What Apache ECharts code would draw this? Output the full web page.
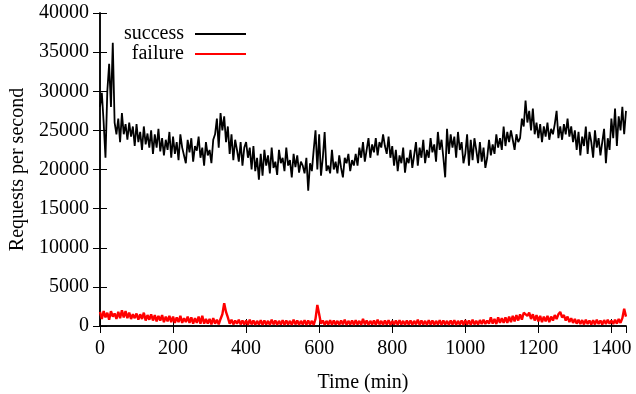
<!DOCTYPE html>
<html>
<head>
<meta charset="utf-8">
<script src="https://cdn.jsdelivr.net/npm/echarts@6/dist/echarts.min.js"></script>
<style>
html,body{margin:0;padding:0;background:#fff;}
#chart{width:636px;height:394px;}
</style>
</head>
<body>
<div id="chart"></div>
<script>
// Sampling step of the series (minutes)
const stepMin = 5;
const xTicks = [0, 200, 400, 600, 800, 1000, 1200, 1400];
const yTicks = [0, 5000, 10000, 15000, 20000, 25000, 30000, 35000, 40000];
const seriesNames = ['success', 'failure'];

const success = [
  28000, 29800, 26000, 21500, 30000, 33500, 28000, 36200, 26000, 24500,
  26500, 23500, 27200, 24500, 25800, 23800, 26000, 24200, 25500, 23000,
  25800, 23500, 24800, 22500, 25500, 23200, 24600, 22800, 25000, 22000,
  24500, 22800, 25200, 22300, 24000, 21800, 23800, 22500, 24800, 21500,
  24200, 22000, 23500, 21200, 24500, 22800, 23000, 20800, 23800, 22200,
  24000, 21000, 23000, 22400, 24200, 21500, 22800, 20500, 23500, 21800,
  22500, 20800, 23800, 24500, 26500, 22800, 27200, 25000, 26800, 23500,
  25500, 22000, 24500, 21200, 23800, 22500, 21000, 23500, 20500, 22800,
  23500, 21500, 22800, 20000, 23000, 19800, 21500, 18700, 22000, 19200,
  22500, 20500, 21800, 19500, 22800, 20200, 21000, 19300, 22500, 20800,
  21500, 19800, 22800, 20500, 21200, 19000, 22000, 20300, 21800, 19600,
  21000, 20500, 19500, 21500, 17300, 20800, 19800, 22500, 25000, 20000,
  24500, 19200, 21500, 24800, 19800, 20500, 19500, 22500, 20000, 21000,
  19500, 21800, 20200, 19000, 21500, 20800, 22000, 19800, 21200, 20500,
  22000, 20500, 22800, 21500, 23500, 21000, 22500, 24000, 21500, 23200,
  22200, 24000, 21800, 23500, 22800, 24500, 23000, 22000, 24200, 21500,
  23000, 20500, 22500, 19800, 21800, 20800, 22800, 19600, 21500, 20800,
  22500, 20200, 21800, 23500, 20500, 22800, 21500, 23800, 20800, 22500,
  21500, 24000, 22200, 23200, 21000, 24800, 22500, 23800, 21500, 19000,
  25200, 22000, 24500, 22800, 24200, 21500, 24800, 22500, 23500, 20800,
  22000, 24500, 20500, 23800, 21200, 24000, 22500, 20800, 23500, 21000,
  22800, 20200, 21500, 23800, 21800, 23200, 22000, 24500, 22800, 24000,
  22500, 25500, 23000, 24800, 23500, 25000, 23800, 22500, 24500, 23500,
  24000, 26500, 25500, 28800, 26000, 27500, 25000, 27800, 24500, 26000,
  24000, 25800, 23500, 25500, 24200, 26000, 23800, 25200, 24500, 25800,
  27500, 24000, 25500, 23800, 25800, 24500, 26500, 24200, 25500, 23500,
  25000, 22500, 24800, 21800, 24200, 23000, 25500, 22000, 24800, 23500,
  21500, 25000, 22800, 24000, 21800, 23500, 25200, 20800, 24000, 22500,
  26500, 24000, 27800, 23000, 26800, 25000, 28000, 24500, 27500
];

const failure = [
  1800, 900, 1900, 1100, 1700, 800, 1900, 1200, 1600, 900,
  1800, 1000, 2000, 1100, 1900, 1000, 1700, 900, 1500, 1000,
  1600, 800, 1500, 900, 1700, 700, 1400, 800, 1500, 700,
  1400, 600, 1300, 700, 1400, 500, 1200, 600, 1300, 500,
  1200, 400, 1100, 500, 1300, 400, 1000, 500, 1200, 400,
  1100, 300, 1000, 400, 1200, 300, 1300, 300, 900, 300,
  900, 200, 1000, 300, 800, 200, 900, 1500, 2900, 1800,
  1100, 300, 800, 200, 700, 300, 800, 200, 700, 200,
  700, 150, 800, 200, 700, 150, 650, 200, 750, 150,
  700, 200, 650, 150, 800, 200, 700, 150, 650, 200,
  750, 150, 700, 200, 650, 150, 800, 200, 700, 150,
  650, 200, 750, 150, 700, 200, 650, 150, 900, 2700,
  1500, 300, 700, 150, 650, 200, 750, 150, 700, 200,
  650, 150, 700, 200, 800, 150, 650, 200, 700, 150,
  750, 200, 650, 150, 900, 200, 700, 150, 650, 200,
  700, 150, 800, 200, 650, 150, 700, 200, 750, 150,
  650, 200, 700, 150, 750, 200, 650, 150, 700, 200,
  700, 150, 650, 200, 800, 150, 700, 200, 650, 150,
  750, 200, 700, 150, 650, 200, 750, 150, 700, 200,
  650, 150, 700, 200, 750, 150, 650, 200, 700, 150,
  750, 200, 700, 150, 800, 200, 650, 200, 750, 250,
  800, 250, 700, 300, 1100, 300, 900, 250, 1100, 400,
  1000, 400, 1100, 400, 1200, 500, 1300, 600, 1400, 700,
  1500, 800, 1700, 1900, 1300, 1700, 900, 1500, 700, 1400,
  600, 1300, 500, 1200, 600, 1300, 500, 1200, 700, 1400,
  900, 1500, 1800, 1100, 1400, 700, 1200, 500, 1000, 400,
  900, 300, 800, 250, 750, 200, 800, 250, 700, 200,
  750, 200, 800, 250, 700, 200, 750, 250, 800, 300,
  700, 250, 800, 300, 900, 400, 1000, 2200, 1200
];

const times = success.map((_, i) => i * stepMin);
const xMax = 1440;

const font = 'Liberation Serif';
const fs = 20;

const chart = echarts.init(document.getElementById('chart'), null, {renderer: 'canvas'});

const tickStyle = {show: true, inside: true, length: 7, lineStyle: {color: '#000', width: 1}};
const lineStyle = {show: true, lineStyle: {color: '#000', width: 1.5}};

const legendBase = {
  align: 'right', right: 390, padding: 0, icon: 'rect',
  itemWidth: 51, itemHeight: 2, selectedMode: false,
  textStyle: {fontFamily: font, fontSize: fs, color: '#000', padding: [0, 6, 0, 0]}
};

const option = {
  animation: false,
  backgroundColor: '#fff',
  grid: {left: 100, right: 10, top: 13, bottom: 68, containLabel: false, outerBoundsMode: 'none'},
  legend: [
    Object.assign({data: [seriesNames[0]], top: 24}, legendBase),
    Object.assign({data: [seriesNames[1]], top: 44}, legendBase)
  ],
  xAxis: [
    {
      type: 'value', min: xTicks[0], max: xMax, interval: xTicks[1] - xTicks[0],
      position: 'bottom',
      name: 'Time (min)', nameLocation: 'middle', nameGap: 47,
      nameTextStyle: {fontFamily: font, fontSize: fs, color: '#000'},
      axisLine: lineStyle, axisTick: tickStyle,
      axisLabel: {fontFamily: font, fontSize: fs, color: '#000', margin: 13, showMaxLabel: false,
        formatter: v => (xTicks.indexOf(v) >= 0 ? String(v) : '')},
      splitLine: {show: false}
    },
    {
      type: 'value', min: xTicks[0], max: xMax, interval: xTicks[1] - xTicks[0],
      position: 'top',
      axisLine: lineStyle, axisTick: tickStyle,
      axisLabel: {show: false}, splitLine: {show: false}
    }
  ],
  yAxis: [
    {
      type: 'value', min: yTicks[0], max: yTicks[yTicks.length - 1], interval: yTicks[1] - yTicks[0],
      position: 'left',
      name: 'Requests per second', nameLocation: 'middle', nameGap: 70,
      nameTextStyle: {fontFamily: font, fontSize: fs, color: '#000'},
      axisLine: lineStyle, axisTick: tickStyle,
      axisLabel: {fontFamily: font, fontSize: fs, color: '#000', margin: 11, formatter: v => String(v)},
      splitLine: {show: false}
    },
    {
      type: 'value', min: yTicks[0], max: yTicks[yTicks.length - 1], interval: yTicks[1] - yTicks[0],
      position: 'right',
      axisLine: lineStyle, axisTick: tickStyle,
      axisLabel: {show: false}, splitLine: {show: false}
    }
  ],
  series: [
    {
      name: seriesNames[0], type: 'line', xAxisIndex: 0, yAxisIndex: 0,
      data: times.map((t, i) => [t, success[i]]),
      symbol: 'none', color: '#000',
      lineStyle: {color: '#000', width: 1.8}
    },
    {
      name: seriesNames[1], type: 'line', xAxisIndex: 0, yAxisIndex: 0,
      data: times.map((t, i) => [t, failure[i]]),
      symbol: 'none', color: '#ff0000',
      lineStyle: {color: '#ff0000', width: 2.4}
    }
  ]
};
chart.setOption(option);
</script>
</body>
</html>
